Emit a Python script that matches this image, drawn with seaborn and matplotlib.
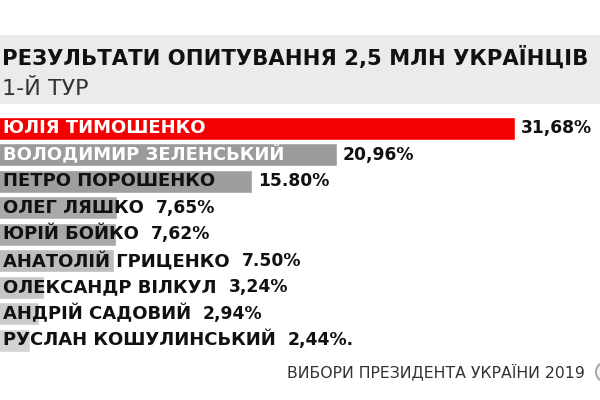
import matplotlib
matplotlib.use("Agg")

import matplotlib.pyplot as plt
import matplotlib.patches as mpatches
from matplotlib.transforms import IdentityTransform
import seaborn as sns
import pandas as pd

# Poll data (first round)
CANDIDATES = [
    "ЮЛІЯ ТИМОШЕНКО",
    "ВОЛОДИМИР ЗЕЛЕНСЬКИЙ",
    "ПЕТРО ПОРОШЕНКО",
    "ОЛЕГ ЛЯШКО",
    "ЮРІЙ БОЙКО",
    "АНАТОЛІЙ ГРИЦЕНКО",
    "ОЛЕКСАНДР ВІЛКУЛ",
    "АНДРІЙ САДОВИЙ",
    "РУСЛАН КОШУЛИНСЬКИЙ",
]
VALUES = [31.68, 20.96, 15.80, 7.65, 7.62, 7.50, 3.24, 2.94, 2.44]
VALUE_LABELS = ["31,68%", "20,96%", "15.80%", "7,65%", "7,62%", "7.50%", "3,24%", "2,94%", "2,44%."]

TITLE = "РЕЗУЛЬТАТИ ОПИТУВАННЯ 2,5 МЛН УКРАЇНЦІВ"
SUBTITLE = "1-Й ТУР"
FOOTER = "ВИБОРИ ПРЕЗИДЕНТА УКРАЇНИ 2019"

BAR_COLORS = ["#f50000", "#9b9b9b", "#9e9e9e", "#a9a9a9", "#a9a9a9",
              "#bdbdbd", "#c6c6c6", "#cbcbcb", "#d3d3d3"]
NAME_COLORS = ["white", "white"] + ["#111111"] * 7

sns.set_theme(style="white")
plt.rcParams["font.family"] = ["DejaVu Sans"]

W, H = 600, 400
fig = plt.figure(figsize=(6, 4), dpi=100)
fig.patch.set_facecolor("white")

# grey header band
fig.patches.append(mpatches.Rectangle((0, 1 - 104 / H), 1, 69 / H,
                                      transform=fig.transFigure,
                                      facecolor="#ebebeb", edgecolor="none"))
fig.text(2 / W, 1 - 65 / H, TITLE, fontsize=15.2, fontweight="bold",
         color="#111111", ha="left", va="baseline")
fig.text(2 / W, 1 - 95 / H, SUBTITLE, fontsize=16, color="#333333",
         ha="left", va="baseline")

# bars: 9 rows, pitch 26.5 px starting at y=115
row_px = 26.5
top_px = 115.0
ax = fig.add_axes([-10 / W, 1 - (top_px + 9 * row_px) / H, 601 / W, 9 * row_px / H])
df = pd.DataFrame({"name": CANDIDATES, "value": VALUES})
sns.barplot(data=df, x="value", y="name", hue="name", palette=BAR_COLORS,
            legend=False, width=0.87, orient="h", saturation=1, ax=ax)
ax.set_xlim(0, 36.3)
ax.set_ylim(8.5, -0.5)
ax.axis("off")

# names start just inside the left edge of the picture
name_x = ax.transData.inverted().transform((3, 0))[0]
name_texts = []
for i, name in enumerate(CANDIDATES):
    t = ax.text(name_x, i, name, fontsize=13, fontweight="bold", color=NAME_COLORS[i],
                ha="left", va="center", clip_on=False)
    name_texts.append(t)

fig.canvas.draw()
renderer = fig.canvas.get_renderer()
inv = ax.transData.inverted()
for i, (val, label) in enumerate(zip(VALUES, VALUE_LABELS)):
    bar_end = ax.transData.transform((val, i))[0]
    name_end = name_texts[i].get_window_extent(renderer).x1
    x_px = max(bar_end + 6, name_end + 12)
    x_data = inv.transform((x_px, 0))[0]
    ax.text(x_data, i, label, fontsize=12.3, fontweight="bold", color="#111111",
            ha="left", va="center", clip_on=False)

fig.text(585 / W, 1 - 372 / H, FOOTER, fontsize=11.3, color="#333333",
         ha="right", va="center")
fig.patches.append(mpatches.Circle((606, H - 372), 10, transform=IdentityTransform(),
                                   facecolor="#f4f4f4", edgecolor="#9a9a9a", linewidth=1.2))

fig.savefig("out.png", dpi=100)
plt.close(fig)
